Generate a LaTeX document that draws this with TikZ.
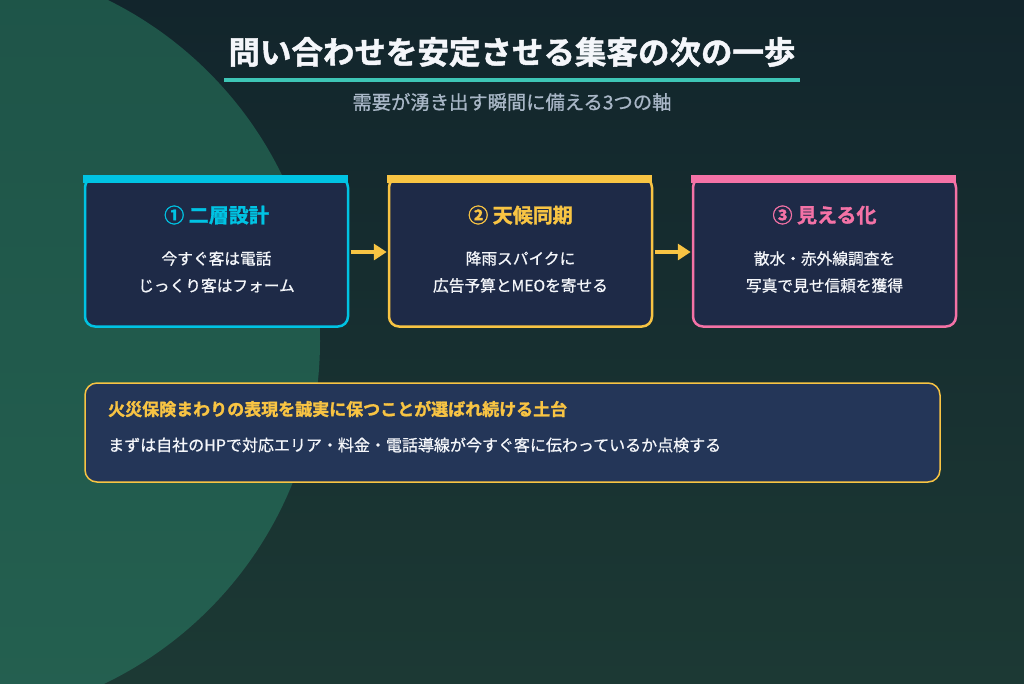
\documentclass[tikz,border=0pt]{standalone}
\usepackage{fontspec}
\setmainfont{Noto Sans CJK JP}
\newfontfamily\heavyfont[FakeBold=1.5]{Noto Sans CJK JP Bold}
\newfontfamily\medfont[FakeBold=0.8]{Noto Sans CJK JP}
\usetikzlibrary{arrows.meta}
\definecolor{bgtop}{HTML}{12252C}
\definecolor{bgbot}{HTML}{1C3934}
\definecolor{circtop}{HTML}{1E5448}
\definecolor{circbot}{HTML}{246050}
\definecolor{boxfill}{HTML}{1E2A47}
\definecolor{notefill}{HTML}{243658}
\definecolor{ccyan}{HTML}{00C3E3}
\definecolor{cyellow}{HTML}{F8C443}
\definecolor{cpink}{HTML}{F472A6}
\definecolor{ctext}{HTML}{F4F6FA}
\definecolor{csub}{HTML}{A9B7C7}
\definecolor{cline}{HTML}{3EC6B6}
\tikzset{
  stepbox/.style={draw=#1, line width=2.5pt, fill=boxfill, rounded corners=10pt,
    minimum width=263pt, minimum height=149pt, inner sep=0pt},
  topbar/.style={fill=#1, draw=none},
  boxtitle/.style={font=\heavyfont\fontsize{20}{24}\selectfont, text=#1, inner sep=0pt},
  boxbody/.style={font=\medfont\fontsize{15.7}{27}\selectfont, text=ctext, align=center, inner sep=0pt},
  flow/.style={draw=cyellow, line width=4pt, -{Triangle[length=13pt,width=16pt]}},
}
\begin{document}
\begin{tikzpicture}[x=1pt,y=-1pt]
\useasboundingbox (0,0) rectangle (1024,683);
\shade[top color=bgtop, bottom color=bgbot] (0,0) rectangle (1024,683);
\begin{scope}
\clip (0,0) rectangle (1024,683);
\shade[top color=circtop, bottom color=circbot] (-60,341) circle[radius=380];
\end{scope}
% title
\node[font=\heavyfont\fontsize{31.5}{36}\selectfont, text=ctext, inner sep=0pt] (title) at (512,52) {問い合わせを安定させる集客の次の一歩};
\coordinate (ulA) at (224,80);
\coordinate (ulB) at (800,80);
\draw[cline, line width=4pt] (ulA) -- (ulB);
\node[font=\medfont\fontsize{19.3}{22}\selectfont, text=csub, inner sep=0pt] (sub) at (512,102) {需要が湧き出す瞬間に備える3つの軸};
% boxes
\node[stepbox=ccyan] (b1) at (216.5,252) {};
\node[stepbox=cyellow] (b2) at (520.5,252) {};
\node[stepbox=cpink] (b3) at (824.5,252) {};
\fill[topbar=ccyan] (b1.north west) ++(-1.25,-1) rectangle ++(265.5,8);
\fill[topbar=cyellow] (b2.north west) ++(-1.25,-1) rectangle ++(265.5,8);
\fill[topbar=cpink] (b3.north west) ++(-1.25,-1) rectangle ++(265.5,8);
\node[boxtitle=ccyan] (t1) at (216.5,215) {① 二層設計};
\node[boxtitle=cyellow] (t2) at (520.5,215) {② 天候同期};
\node[boxtitle=cpink] (t3) at (824.5,215) {③ 見える化};
\node[boxbody] (d1) at (216.5,272) {今すぐ客は電話\\じっくり客はフォーム};
\node[boxbody] (d2) at (520.5,272) {降雨スパイクに\\広告予算とMEOを寄せる};
\node[boxbody] (d3) at (824.5,272) {散水・赤外線調査を\\写真で見せ信頼を獲得};
\draw[flow] (b1.east) ++(1.25,0) -- ([xshift=-1pt]b2.west);
\draw[flow] (b2.east) ++(1.25,0) -- ([xshift=-1pt]b3.west);
% note box
\node[draw=cyellow, line width=1.5pt, fill=notefill, rounded corners=12pt,
  minimum width=855pt, minimum height=99pt, inner sep=0pt] (note) at (512.5,432.5) {};
\node[font=\heavyfont\fontsize{17}{20}\selectfont, text=cyellow, anchor=west, inner sep=0pt] (nt) at (108,409) {火災保険まわりの表現を誠実に保つことが選ばれ続ける土台};
\node[font=\medfont\fontsize{16}{20}\selectfont, text=ctext, anchor=west, inner sep=0pt] (nb) at (108,445) {まずは自社のHPで対応エリア・料金・電話導線が今すぐ客に伝わっているか点検する};
\end{tikzpicture}
\end{document}
